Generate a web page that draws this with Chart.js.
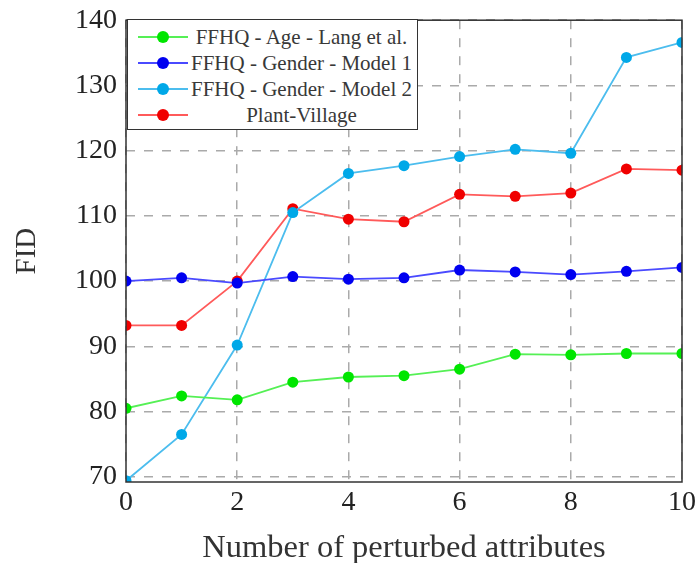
<!DOCTYPE html>
<html>
<head>
<meta charset="utf-8">
<script src="https://cdn.jsdelivr.net/npm/chart.js@4.4.0/dist/chart.umd.min.js"></script>
<style>
	html, body { margin: 0; padding: 0; background: #fff; }
	.wrap { position: relative; width: 700px; height: 563px; }
	.legend {
		position: absolute; left: 127px; top: 19px; width: 291px; height: 111px;
		background: #fff; border: 1.5px solid #333; box-sizing: border-box;
		font-family: 'Liberation Serif', serif; font-size: 21px; color: #383838;
		padding-top: 4px;
	}
	.legend .row { display: flex; align-items: center; height: 26px; }
	.legend .sym { position: relative; width: 50px; height: 12px; margin-left: 10px; }
	.legend .sym .ln { position: absolute; left: 0; right: 0; top: 5px; height: 2px; }
	.legend .sym .dot { position: absolute; left: 19px; top: 0; width: 12px; height: 12px; border-radius: 50%; }
	.legend .txt { flex: 1; text-align: center; padding-right: 2px; white-space: nowrap; }
</style>
</head>
<body>
<div class="wrap">
	<canvas class="fid-chart" width="700" height="563"></canvas>
	<div class="legend"></div>
</div>
<script>
let xValues = [0, 1, 2, 3, 4, 5, 6, 7, 8, 9, 10]
let ageLang = [80.5, 82.4, 81.8, 84.5, 85.3, 85.5, 86.5, 88.8, 88.7, 88.9, 88.9]
let genderModel1 = [100.0, 100.5, 99.7, 100.7, 100.3, 100.5, 101.7, 101.4, 101.0, 101.5, 102.1]
let genderModel2 = [69.4, 76.5, 90.2, 110.5, 116.5, 117.7, 119.1, 120.2, 119.6, 134.3, 136.6]
let plantVillage = [93.2, 93.2, 100.0, 111.1, 109.5, 109.1, 113.3, 113.0, 113.5, 117.2, 117.0]
let seriesNames = ['FFHQ - Age - Lang et al.', 'FFHQ - Gender - Model 1', 'FFHQ - Gender - Model 2', 'Plant-Village']

let lineColors = ['#55f055', '#4a4aff', '#4cbdee', '#ff5a5a']
let dotColors = ['#00e600', '#0000f0', '#00a8e8', '#f00000']

function toPoints(values) {
	return values.map(function (v, i) {
		return { x: xValues[i], y: v }
	})
}

let allSeries = [ageLang, genderModel1, genderModel2, plantVillage]
let datasets = allSeries.map(function (values, i) {
	return {
		label: seriesNames[i],
		data: toPoints(values),
		borderColor: lineColors[i],
		borderWidth: 1.8,
		pointRadius: 5.5,
		pointHoverRadius: 5.5,
		pointBackgroundColor: dotColors[i],
		pointBorderColor: dotColors[i],
		pointBorderWidth: 0,
		tension: 0,
	}
})

let serif = 'Liberation Serif'

// pgfplots style box round the plot
let framePlugin = {
	id: 'frame',
	afterDatasetsDraw: function (chart) {
		let a = chart.chartArea
		let ctx = chart.ctx
		ctx.save()
		ctx.strokeStyle = '#333'
		ctx.lineWidth = 1.5
		ctx.strokeRect(a.left, a.top, a.right - a.left, a.bottom - a.top)
		ctx.restore()
	},
}

let canvas = document.querySelector('.fid-chart')
let chart = new Chart(canvas, {
	type: 'line',
	data: { datasets: datasets },
	options: {
		responsive: false,
		animation: false,
		layout: { padding: { top: 19, right: 13, left: 0, bottom: 0 } },
		plugins: { legend: { display: false }, tooltip: { enabled: false } },
		scales: {
			x: {
				type: 'linear',
				min: 0,
				max: 10,
				ticks: { stepSize: 2, color: '#222', font: { family: serif, size: 28 }, padding: 4 },
				grid: { color: '#aaa', lineWidth: 1.5, drawTicks: false },
				border: { display: false, dash: [9, 9] },
				title: { display: true, text: 'Number of perturbed attributes', color: '#333', font: { family: serif, size: 32.5 }, padding: { top: 0, bottom: -5 } },
				afterFit: function (scale) { scale.height = 81 },
			},
			y: {
				min: 69.2,
				max: 140,
				ticks: { stepSize: 10, includeBounds: false, color: '#222', font: { family: serif, size: 28, lineHeight: 0.8 }, padding: 9 },
				grid: { color: '#aaa', lineWidth: 1.5, drawTicks: false },
				border: { display: false, dash: [9, 9] },
				title: { display: true, text: 'FID', color: '#333', font: { family: serif, size: 29 }, padding: { top: 10, bottom: 0 } },
				afterFit: function (scale) { scale.width = 126 },
			},
		},
	},
	plugins: [framePlugin],
})

let legend = document.querySelector('.legend')
for (let i = 0; i < seriesNames.length; i++) {
	let row = document.createElement('div')
	row.className = 'row'
	row.innerHTML = '<div class="sym"><div class="ln" style="background:' + lineColors[i] + '"></div>' +
		'<div class="dot" style="background:' + dotColors[i] + '"></div></div>' +
		'<div class="txt">' + seriesNames[i] + '</div>'
	legend.appendChild(row)
}
</script>
</body>
</html>
